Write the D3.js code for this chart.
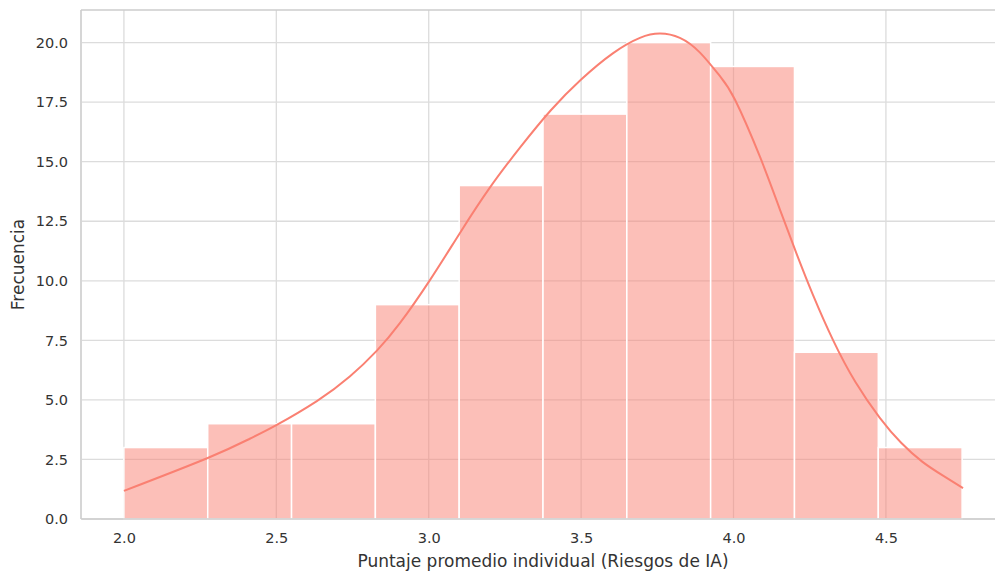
<!DOCTYPE html>
<html>
<head>
  <meta charset="utf-8">
  <script src="https://d3js.org/d3.v7.min.js"></script>
  <style>
    body { margin: 0; background: #fff; }
    svg { display: block; font-family: "DejaVu Sans", sans-serif; }
  </style>
</head>
<body>
  <div id="chart"></div>
  <script>
    // histogram bins (left edges) and counts
    var binStart = 2.0;
    var binWidth = 0.275;
    var counts = [3, 4, 4, 9, 14, 17, 20, 19, 7, 3];

    // kde curve
    var kdeX = [2.0, 2.275, 2.413, 2.5, 2.633, 2.741, 2.83, 2.906, 3.004, 3.102, 3.2, 3.3, 3.4, 3.5, 3.604, 3.693, 3.759, 3.824, 3.89, 3.955, 4.005, 4.087, 4.152, 4.208, 4.261, 4.327, 4.40, 4.48, 4.55, 4.62, 4.69, 4.753];
    var kdeY = [1.18, 2.56, 3.37, 3.94, 4.95, 5.98, 7.07, 8.23, 10.03, 12.0, 13.9, 15.6, 17.15, 18.45, 19.55, 20.2, 20.38, 20.2, 19.58, 18.6, 17.6, 15.2, 13.0, 11.1, 9.4, 7.5, 5.75, 4.25, 3.2, 2.4, 1.8, 1.3];

    var xTicks = [2.0, 2.5, 3.0, 3.5, 4.0, 4.5];
    var yTicks = [0, 2.5, 5, 7.5, 10, 12.5, 15, 17.5, 20];

    var W = 995, H = 571;
    var mLeft = 82, mTop = 10, mBottom = 519;

    var x = d3.scaleLinear().domain([1.8625, 4.8875]).range([mLeft, mLeft + 3.025 * 304.8]);
    var y = d3.scaleLinear().domain([0, 21.37]).range([mBottom, mTop]);

    var svg = d3.select("#chart").append("svg")
      .attr("width", W)
      .attr("height", H);

    // grid
    svg.append("g").selectAll("line")
      .data(xTicks).enter().append("line")
      .attr("x1", function(d) { return x(d); })
      .attr("x2", function(d) { return x(d); })
      .attr("y1", mTop).attr("y2", mBottom)
      .attr("stroke", "#dcdcdc").attr("stroke-width", 1.3);

    svg.append("g").selectAll("line")
      .data(yTicks).enter().append("line")
      .attr("x1", x.range()[0]).attr("x2", x.range()[1])
      .attr("y1", function(d) { return y(d); })
      .attr("y2", function(d) { return y(d); })
      .attr("stroke", "#dcdcdc").attr("stroke-width", 1.3);

    // bars
    svg.append("g").selectAll("rect")
      .data(counts).enter().append("rect")
      .attr("x", function(d, i) { return x(binStart + i * binWidth); })
      .attr("width", function(d, i) { return x(binStart + (i + 1) * binWidth) - x(binStart + i * binWidth); })
      .attr("y", function(d) { return y(d); })
      .attr("height", function(d) { return y(0) - y(d); })
      .attr("fill", "#fa8072")
      .attr("fill-opacity", 0.5)
      .attr("stroke", "#fff")
      .attr("stroke-width", 1.5);

    // kde line
    var line = d3.line()
      .x(function(d) { return x(d[0]); })
      .y(function(d) { return y(d[1]); })
      .curve(d3.curveNatural);

    svg.append("path")
      .datum(d3.zip(kdeX, kdeY))
      .attr("d", line)
      .attr("fill", "none")
      .attr("stroke", "#fa8072")
      .attr("stroke-width", 2);

    // axes (ticks hidden, only labels)
    var xAxis = svg.append("g")
      .attr("transform", "translate(0," + mBottom + ")")
      .call(d3.axisBottom(x).tickValues(xTicks).tickFormat(d3.format(".1f")).tickSize(0).tickPadding(14));
    xAxis.select(".domain").remove();

    var yAxis = svg.append("g")
      .attr("transform", "translate(" + (mLeft - 1) + ",0)")
      .call(d3.axisLeft(y).tickValues(yTicks).tickFormat(d3.format(".1f")).tickSize(0).tickPadding(13));
    yAxis.select(".domain").remove();

    svg.selectAll(".tick text")
      .attr("font-family", "DejaVu Sans")
      .attr("font-size", "14.5px")
      .attr("fill", "#333");

    // spines
    var sp = svg.append("g").attr("stroke", "#cccccc").attr("stroke-width", 1.6).attr("fill", "none");
    sp.append("line").attr("x1", mLeft - 1).attr("x2", mLeft - 1).attr("y1", mTop).attr("y2", mBottom);
    sp.append("line").attr("x1", mLeft - 1).attr("x2", W).attr("y1", mBottom).attr("y2", mBottom);
    sp.append("line").attr("x1", mLeft - 1).attr("x2", W).attr("y1", mTop).attr("y2", mTop);

    // axis labels
    svg.append("text")
      .attr("x", 543)
      .attr("y", 567)
      .attr("text-anchor", "middle")
      .style("font-size", "17px")
      .style("fill", "#333")
      .text("Puntaje promedio individual (Riesgos de IA)");

    svg.append("text")
      .attr("transform", "translate(24," + ((mTop + mBottom) / 2) + ") rotate(-90)")
      .attr("text-anchor", "middle")
      .style("font-size", "17px")
      .style("fill", "#333")
      .text("Frecuencia");
  </script>
</body>
</html>
